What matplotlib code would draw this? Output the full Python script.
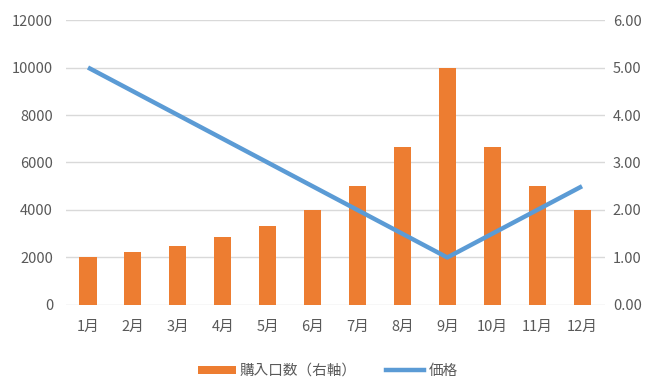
import matplotlib
matplotlib.use("Agg")
import matplotlib.pyplot as plt
from matplotlib.patches import Patch
from matplotlib.lines import Line2D

plt.rcParams['font.family'] = ['Noto Sans CJK JP', 'DejaVu Sans']

months = ['1月', '2月', '3月', '4月', '5月', '6月', '7月', '8月', '9月', '10月', '11月', '12月']
units = [2000, 2222, 2500, 2857, 3333, 4000, 5000, 6667, 10000, 6667, 5000, 4000]
price = [5.0, 4.5, 4.0, 3.5, 3.0, 2.5, 2.0, 1.5, 1.0, 1.5, 2.0, 2.5]
left_ticks = [0, 2000, 4000, 6000, 8000, 10000, 12000]
right_ticks = [0, 1, 2, 3, 4, 5, 6]

bar_color = '#ED7D31'
line_color = '#5B9BD5'
text_color = '#595959'
grid_color = '#D9D9D9'
fs = 10.5

fig = plt.figure(figsize=(6.5, 3.79), dpi=100)
ax = fig.add_axes([0.1008, 0.1953, 0.8292, 0.7519])
x = list(range(len(months)))
ax.bar(x, units, width=0.38, color=bar_color, zorder=2)
ax.set_xlim(-0.5, len(months) - 0.5)
ax.set_ylim(0, 12000)
ax.set_yticks(left_ticks)
ax.set_yticklabels([str(v) for v in left_ticks])
ax.set_xticks(x)
ax.set_xticklabels(months)
ax.grid(axis='y', color=grid_color, linewidth=1, zorder=0)
ax.set_axisbelow(True)
for s in ax.spines.values():
    s.set_visible(False)
ax.tick_params(length=0, labelsize=fs, colors=text_color, pad=9)
ax.tick_params(axis='x', pad=11)

ax2 = ax.twinx()
ax2.plot(x, price, color=line_color, linewidth=3.2, solid_capstyle='butt', zorder=3)
ax2.set_ylim(0, 6)
ax2.set_yticks(right_ticks)
ax2.set_yticklabels([f'{v:.2f}' for v in right_ticks])
for s in ax2.spines.values():
    s.set_visible(False)
ax2.tick_params(length=0, labelsize=fs, colors=text_color, pad=6)

handles = [Patch(facecolor=bar_color, edgecolor='none'),
           Line2D([0], [0], color=line_color, linewidth=3.2)]
fig.legend(handles, ['購入口数（右軸）', '価格'], loc='lower center',
           bbox_to_anchor=(0.504, -0.032), ncol=2, frameon=False,
           fontsize=fs, labelcolor=text_color, handlelength=2.6,
           handleheight=0.45, columnspacing=2.0, handletextpad=0.3)

fig.savefig('out.png', dpi=100)
